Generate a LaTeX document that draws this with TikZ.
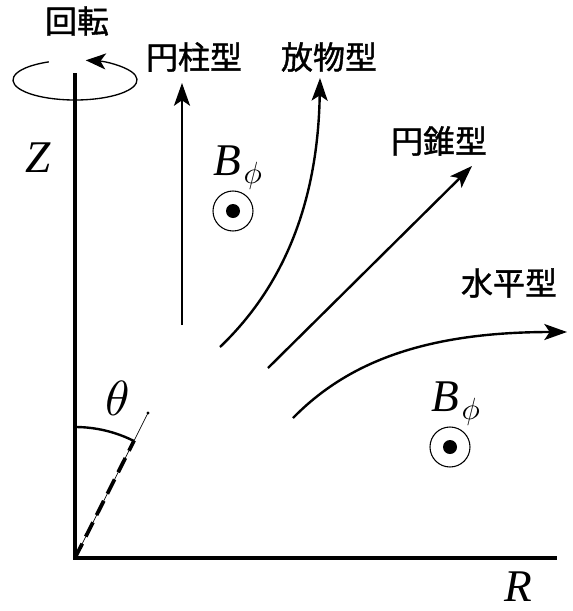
\documentclass[tikz,border=0pt]{standalone}
\usepackage{graphicx}
\usepackage{fontspec}
\newfontfamily\cjk[FakeBold=1.2]{Noto Sans CJK JP}
\newfontfamily\tms{Liberation Serif}
\usetikzlibrary{arrows.meta,calc}
\newcommand{\bphi}{B\hspace{2pt}\raisebox{-6pt}{\normalsize\scalebox{2.3}{$\phi$}}}
\begin{document}
\begin{tikzpicture}[x=0.75pt,y=-0.75pt,
  axis/.style={line width=3pt},
  flow/.style={line width=1.8pt,-{Stealth[length=17pt,width=12pt,inset=4pt]}},
  jlab/.style={font=\cjk\fontsize{24}{28}\selectfont,inner sep=0pt},
  vlab/.style={font=\tms\itshape\fontsize{34}{36}\selectfont,inner sep=0pt},
  ring/.style={line width=0.8pt,draw,circle,minimum size=30pt,inner sep=0pt},
  dotc/.style={fill,circle,minimum size=10.5pt,inner sep=0pt}]
\useasboundingbox (0,0) rectangle (572,611);
% axes
\coordinate (O) at (75,558);
\coordinate (Ztop) at (75,73);
\coordinate (Rend) at (557,558);
\draw[axis] (Ztop) -- (O) -- (Rend);
\node[vlab] (Z) at (38,158) {Z};
\node[vlab] (R) at (518,587) {R};
% rotation
\draw[line width=1pt,-{Stealth[length=15pt,width=12pt,inset=4pt]}] (75,80) ++(-115:62 and 20) arc[start angle=-115,end angle=-440,x radius=62,y radius=20];
\node[jlab] (rot) at (77,21) {回転};
% flows
\coordinate (c1s) at (182,325); \coordinate (c1e) at (182,83);
\draw[flow] (c1s) -- (c1e);
\node[jlab] (c1) at (194,57) {円柱型};
\coordinate (p1s) at (220,347); \coordinate (p1e) at (320,78);
\draw[flow] (p1s) .. controls (285,285) and (318,200) .. (p1e);
\node[jlab] (p1) at (329,57) {放物型};
\coordinate (k1s) at (268,368); \coordinate (k1e) at (472,166);
\draw[flow] (k1s) -- (k1e);
\node[jlab] (k1) at (439,141) {円錐型};
\coordinate (h1s) at (293,418); \coordinate (h1e) at (567,332);
\draw[flow] (h1s) .. controls (345,365) and (420,332) .. (h1e);
\node[jlab] (h1) at (509,283) {水平型};
% B_phi
\node[ring] (b1) at (233,211) {};
\node[dotc] (b1d) at (b1) {};
\node[vlab,anchor=base west] (b1l) at (213,175) {\bphi};
\node[ring] (b2) at (450,447) {};
\node[dotc] (b2d) at (b2) {};
\node[vlab,anchor=base west] (b2l) at (431,411) {\bphi};
% theta
\coordinate (tend) at (148,413);
\draw[line width=0.5pt] (O) -- (tend);
\fill (tend) circle (1.3pt);
\draw[line width=2.8pt,dash pattern=on 12pt off 6pt] (O) -- ($(O)!0.81!(tend)$);
\draw[line width=1.8pt] (75,427) arc[start angle=-90,end angle=-63.3,radius=131];
\node[inner sep=0pt] (th) at (118,398) {\normalsize\scalebox{3.7}{$\theta$}};
\end{tikzpicture}
\end{document}
